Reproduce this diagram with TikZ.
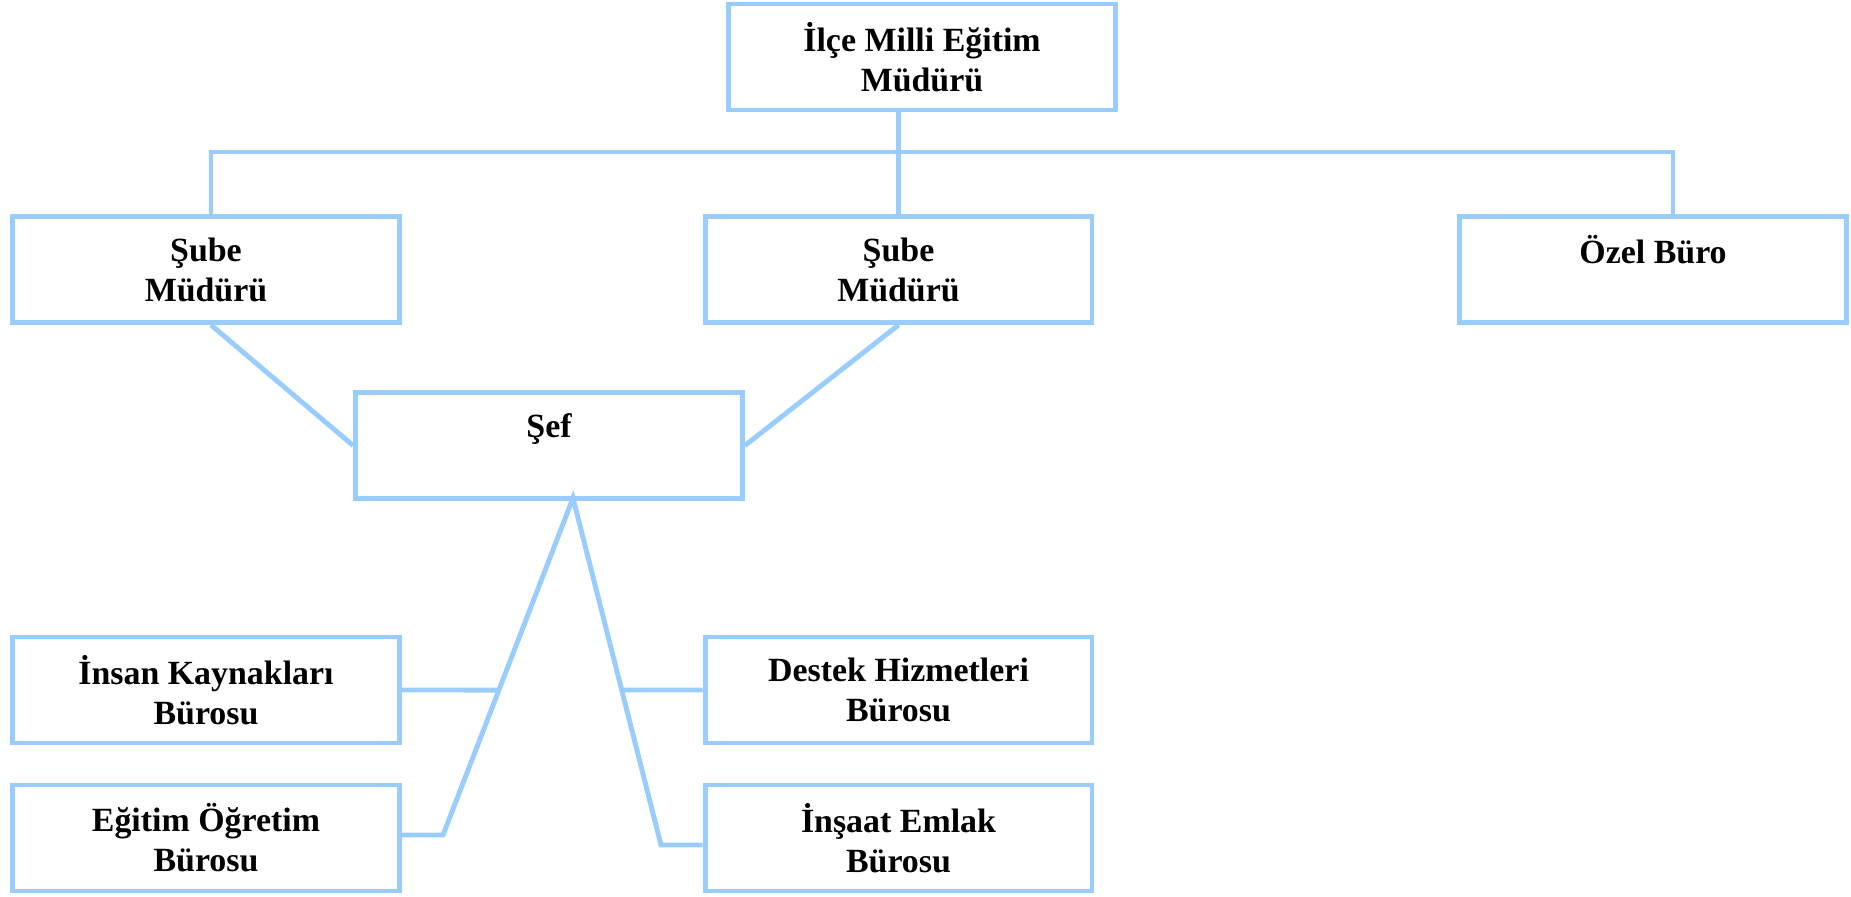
\documentclass[tikz,border=0pt]{standalone}
\usepackage{fontspec}
\setmainfont{Liberation Serif}
\definecolor{orgblue}{RGB}{153,204,255}

\begin{document}
\begin{tikzpicture}[x=0.02cm,y=-0.02cm,
  unit/.style={draw=orgblue,line width=2.8pt,minimum width=7.74cm,minimum height=2.12cm,
    inner sep=0pt,align=center,font=\fontsize{19.3}{22.7}\selectfont\bfseries},
  link/.style={draw=orgblue,line width=2.8pt}]
\useasboundingbox (0,0) rectangle (1851,896);

\node[unit] (mudur) at (922,57) {İlçe Milli Eğitim\\Müdürü};

\node[unit] (sube1) at (206,269.5) {Şube\\Müdürü};
\node[unit] (sube2) at (898.5,269.5) {Şube\\Müdürü};
\node[unit] (ozel) at (1653,269.5) {Özel Büro\\~};

\node[unit] (sef) at (549,445.5) {Şef\\~};

\node[unit] (insan) at (206,690) {İnsan Kaynakları\\Bürosu};
\node[unit] (egitim) at (206,838) {Eğitim Öğretim\\Bürosu};
\node[unit] (destek) at (898.5,690) {Destek Hizmetleri\\Bürosu};
\node[unit] (insaat) at (898.5,838) {İnşaat Emlak\\Bürosu};

\coordinate (busL) at (211,152);
\coordinate (busR) at (1673,152);
\draw[link] (mudur.south -| sube2.north) -- (sube2.north);
\draw[link] (busL |- sube1.north) -- (busL) -- (busR) -- (busR |- ozel.north);

\draw[link] (busL |- sube1.south) -- (sef.west);
\draw[link] (sube2.south) -- (sef.east);

\coordinate (apex) at (573,498);
\coordinate (kneeL) at (443,835);
\coordinate (kneeR) at (661,845);
\draw[link] (kneeL -| egitim.east) -- (kneeL) -- (apex) -- (kneeR) -- (kneeR -| insaat.west);
\draw[link] (insan.east) -- (intersection of apex--kneeL and insan.east--destek.west);
\draw[link] (destek.west) -- (intersection of apex--kneeR and insan.east--destek.west);
\end{tikzpicture}
\end{document}
